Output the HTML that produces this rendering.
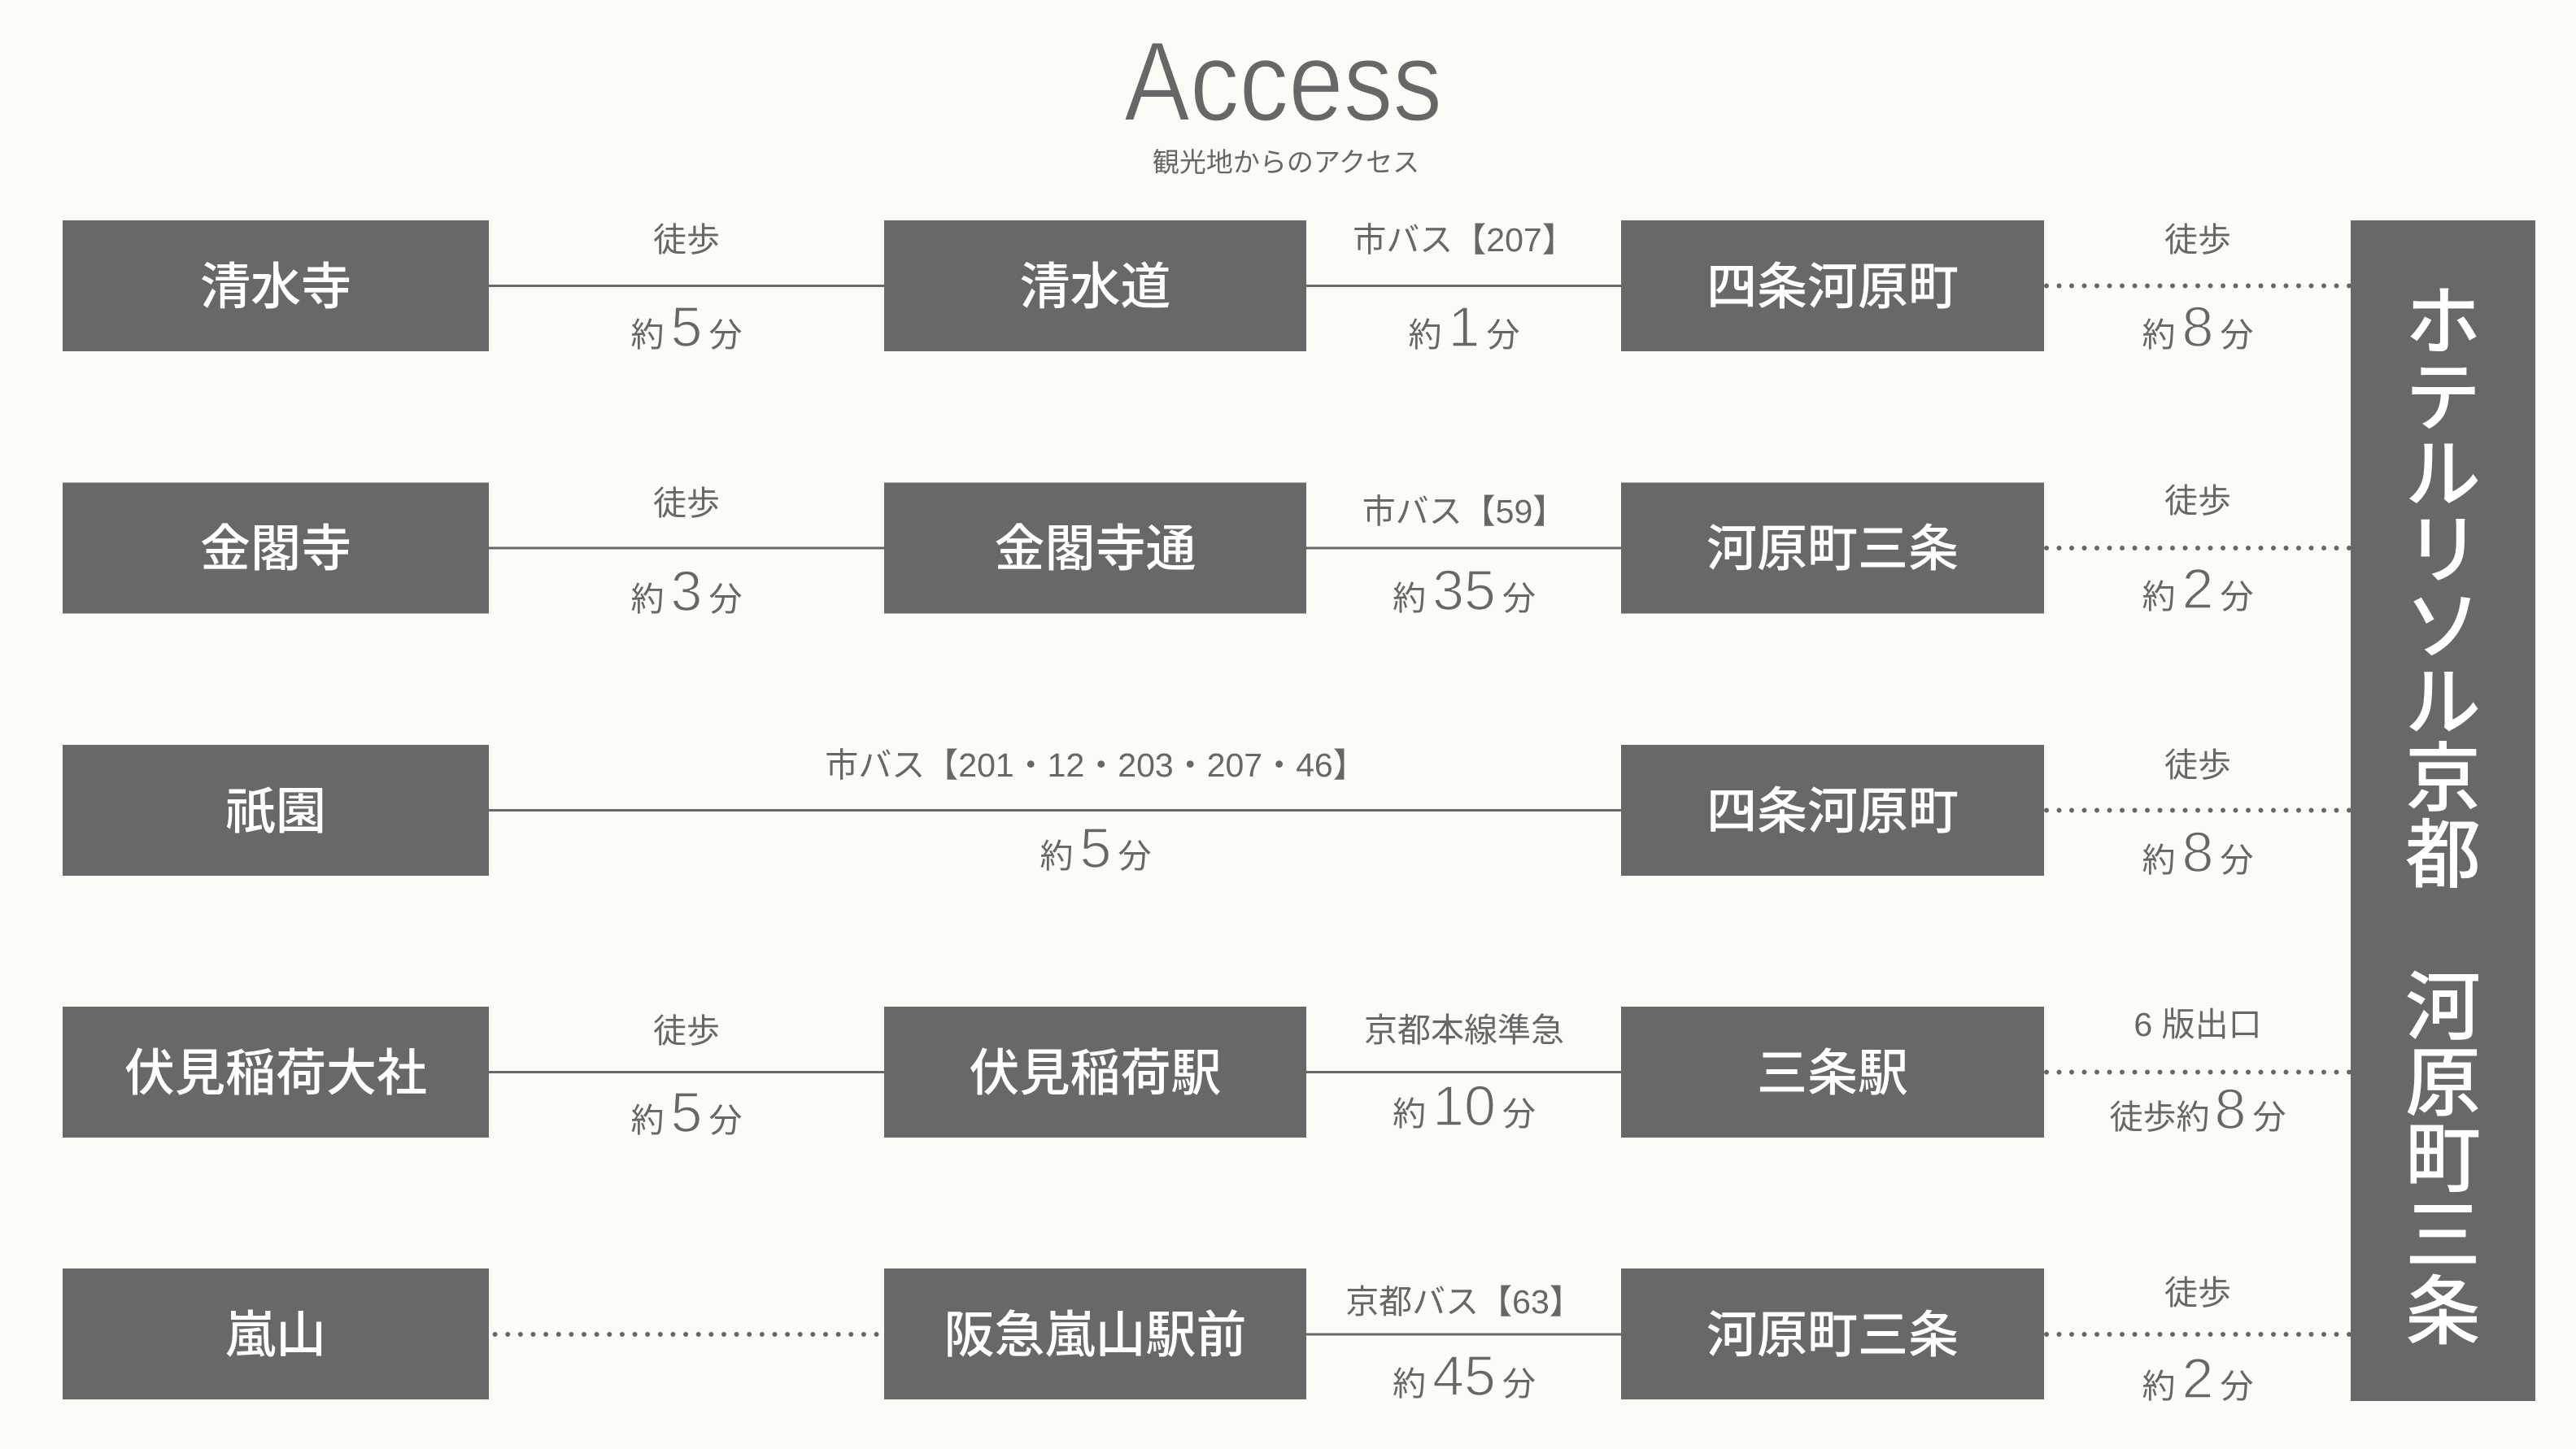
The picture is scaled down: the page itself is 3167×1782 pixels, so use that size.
<!DOCTYPE html>
<html><head><meta charset="utf-8">
<style>
html,body{margin:0;padding:0;background:#fcfcf7;}
svg{display:block;}
.t{font-family:"Liberation Sans","Noto Sans CJK JP",sans-serif;fill:#676767;font-size:41px;}
.b{font-family:"Noto Sans CJK JP","Liberation Sans",sans-serif;fill:#ffffff;font-size:62px;font-weight:500;}
.h{font-family:"Noto Sans CJK JP","Liberation Sans",sans-serif;fill:#ffffff;font-size:93px;font-weight:500;}
.d{font-family:"Liberation Sans",sans-serif;font-size:70px;stroke:#fcfcf7;stroke-width:1.6px;}
.box{fill:#686868;}
.ln{stroke:#686868;stroke-width:3;}
.dt{stroke:#676767;stroke-width:6;stroke-linecap:round;}
</style></head><body>
<svg width="3167" height="1782" viewBox="0 0 3167 1782" xmlns="http://www.w3.org/2000/svg">
<rect width="3167" height="1782" fill="#fcfcf7"/>

<!-- Title -->
<text x="1382" y="148" font-family="Liberation Sans, sans-serif" font-size="139" fill="#676767" stroke="#fcfcf7" stroke-width="2" textLength="391" lengthAdjust="spacingAndGlyphs">Access</text>
<text class="t" x="1581" y="211" text-anchor="middle" style="font-size:33px">観光地からのアクセス</text>

<!-- Connectors -->
<!-- Row 1 -->
<line class="ln" x1="601" y1="351.5" x2="1087" y2="351.5"/>
<line class="ln" x1="1606" y1="351.5" x2="1993" y2="351.5"/>
<line class="dt" x1="2516" y1="351.5" x2="2890" y2="351.5" stroke-dasharray="0 15.5"/>
<!-- Row 2 -->
<line class="ln" x1="601" y1="674" x2="1087" y2="674"/>
<line class="ln" x1="1606" y1="674" x2="1993" y2="674"/>
<line class="dt" x1="2516" y1="674" x2="2890" y2="674" stroke-dasharray="0 15.5"/>
<!-- Row 3 -->
<line class="ln" x1="601" y1="996.5" x2="1993" y2="996.5"/>
<line class="dt" x1="2516" y1="996.5" x2="2890" y2="996.5" stroke-dasharray="0 15.5"/>
<!-- Row 4 -->
<line class="ln" x1="601" y1="1318.5" x2="1087" y2="1318.5"/>
<line class="ln" x1="1606" y1="1318.5" x2="1993" y2="1318.5"/>
<line class="dt" x1="2516" y1="1318.5" x2="2890" y2="1318.5" stroke-dasharray="0 15.5"/>
<!-- Row 5 -->
<line class="dt" x1="608.6" y1="1641" x2="1079" y2="1641" stroke-dasharray="0 15.63"/>
<line class="ln" x1="1606" y1="1641" x2="1993" y2="1641"/>
<line class="dt" x1="2516" y1="1641" x2="2890" y2="1641" stroke-dasharray="0 15.5"/>

<!-- Boxes -->
<rect class="box" x="77" y="271" width="524" height="161"/>
<rect class="box" x="1087" y="271" width="519" height="161"/>
<rect class="box" x="1993" y="271" width="520" height="161"/>

<rect class="box" x="77" y="593.5" width="524" height="161"/>
<rect class="box" x="1087" y="593.5" width="519" height="161"/>
<rect class="box" x="1993" y="593.5" width="520" height="161"/>

<rect class="box" x="77" y="916" width="524" height="161"/>
<rect class="box" x="1993" y="916" width="520" height="161"/>

<rect class="box" x="77" y="1238" width="524" height="161"/>
<rect class="box" x="1087" y="1238" width="519" height="161"/>
<rect class="box" x="1993" y="1238" width="520" height="161"/>

<rect class="box" x="77" y="1560" width="524" height="161"/>
<rect class="box" x="1087" y="1560" width="519" height="161"/>
<rect class="box" x="1993" y="1560" width="520" height="161"/>

<rect class="box" x="2890" y="271" width="227" height="1452"/>

<!-- Box labels -->
<text class="b" x="339" y="374" text-anchor="middle">清水寺</text>
<text class="b" x="1346.5" y="374" text-anchor="middle">清水道</text>
<text class="b" x="2253" y="374" text-anchor="middle">四条河原町</text>

<text class="b" x="339" y="696" text-anchor="middle">金閣寺</text>
<text class="b" x="1346.5" y="696" text-anchor="middle">金閣寺通</text>
<text class="b" x="2253" y="696" text-anchor="middle">河原町三条</text>

<text class="b" x="339" y="1019" text-anchor="middle">祇園</text>
<text class="b" x="2253" y="1019" text-anchor="middle">四条河原町</text>

<text class="b" x="339" y="1341" text-anchor="middle">伏見稲荷大社</text>
<text class="b" x="1346.5" y="1341" text-anchor="middle">伏見稲荷駅</text>
<text class="b" x="2253" y="1341" text-anchor="middle">三条駅</text>

<text class="b" x="339" y="1663" text-anchor="middle">嵐山</text>
<text class="b" x="1346.5" y="1663" text-anchor="middle">阪急嵐山駅前</text>
<text class="b" x="2253" y="1663" text-anchor="middle">河原町三条</text>

<!-- Hotel vertical text -->
<text class="h" x="3003.5" y="428.6" text-anchor="middle">ホ</text>
<text class="h" x="3003.5" y="522.2" text-anchor="middle">テ</text>
<text class="h" x="3003.5" y="615.8" text-anchor="middle">ル</text>
<text class="h" x="3003.5" y="709.4" text-anchor="middle">リ</text>
<text class="h" x="3003.5" y="803" text-anchor="middle">ソ</text>
<text class="h" x="3003.5" y="896.6" text-anchor="middle">ル</text>
<text class="h" x="3003.5" y="990.2" text-anchor="middle">京</text>
<text class="h" x="3003.5" y="1083.8" text-anchor="middle">都</text>
<text class="h" x="3003.5" y="1271" text-anchor="middle">河</text>
<text class="h" x="3003.5" y="1364.6" text-anchor="middle">原</text>
<text class="h" x="3003.5" y="1458.2" text-anchor="middle">町</text>
<text class="h" x="3003.5" y="1551.8" text-anchor="middle">三</text>
<text class="h" x="3003.5" y="1645.4" text-anchor="middle">条</text>

<!-- Connector labels: Row 1 -->
<text class="t" x="844" y="309" text-anchor="middle">徒歩</text>
<text class="t" x="844" y="426" text-anchor="middle">約<tspan class="d" dx="8">5</tspan><tspan dx="8">分</tspan></text>
<text class="t" x="1800" y="309" text-anchor="middle">市バス【207】</text>
<text class="t" x="1800" y="426" text-anchor="middle">約<tspan class="d" dx="8">1</tspan><tspan dx="8">分</tspan></text>
<text class="t" x="2702" y="309" text-anchor="middle">徒歩</text>
<text class="t" x="2702" y="426" text-anchor="middle">約<tspan class="d" dx="8">8</tspan><tspan dx="8">分</tspan></text>

<!-- Row 2 -->
<text class="t" x="844" y="633" text-anchor="middle">徒歩</text>
<text class="t" x="844" y="751" text-anchor="middle">約<tspan class="d" dx="8">3</tspan><tspan dx="8">分</tspan></text>
<text class="t" x="1800" y="643" text-anchor="middle">市バス【59】</text>
<text class="t" x="1800" y="750" text-anchor="middle">約<tspan class="d" dx="8">35</tspan><tspan dx="8">分</tspan></text>
<text class="t" x="2702" y="630" text-anchor="middle">徒歩</text>
<text class="t" x="2702" y="748" text-anchor="middle">約<tspan class="d" dx="8">2</tspan><tspan dx="8">分</tspan></text>

<!-- Row 3 -->
<text class="t" x="1347" y="955" text-anchor="middle">市バス【201・12・203・207・46】</text>
<text class="t" x="1347" y="1067" text-anchor="middle">約<tspan class="d" dx="8">5</tspan><tspan dx="8">分</tspan></text>
<text class="t" x="2702" y="955" text-anchor="middle">徒歩</text>
<text class="t" x="2702" y="1072" text-anchor="middle">約<tspan class="d" dx="8">8</tspan><tspan dx="8">分</tspan></text>

<!-- Row 4 -->
<text class="t" x="844" y="1282" text-anchor="middle">徒歩</text>
<text class="t" x="844" y="1392" text-anchor="middle">約<tspan class="d" dx="8">5</tspan><tspan dx="8">分</tspan></text>
<text class="t" x="1800" y="1281" text-anchor="middle">京都本線準急</text>
<text class="t" x="1800" y="1384" text-anchor="middle">約<tspan class="d" dx="8">10</tspan><tspan dx="8">分</tspan></text>
<text class="t" x="2702" y="1274" text-anchor="middle">6 版出口</text>
<text class="t" x="2702" y="1388" text-anchor="middle">徒歩約<tspan class="d" dx="6">8</tspan><tspan dx="8">分</tspan></text>

<!-- Row 5 -->
<text class="t" x="1800" y="1615" text-anchor="middle">京都バス【63】</text>
<text class="t" x="1800" y="1716" text-anchor="middle">約<tspan class="d" dx="8">45</tspan><tspan dx="8">分</tspan></text>
<text class="t" x="2702" y="1604" text-anchor="middle">徒歩</text>
<text class="t" x="2702" y="1719" text-anchor="middle">約<tspan class="d" dx="8">2</tspan><tspan dx="8">分</tspan></text>
</svg>
</body></html>
